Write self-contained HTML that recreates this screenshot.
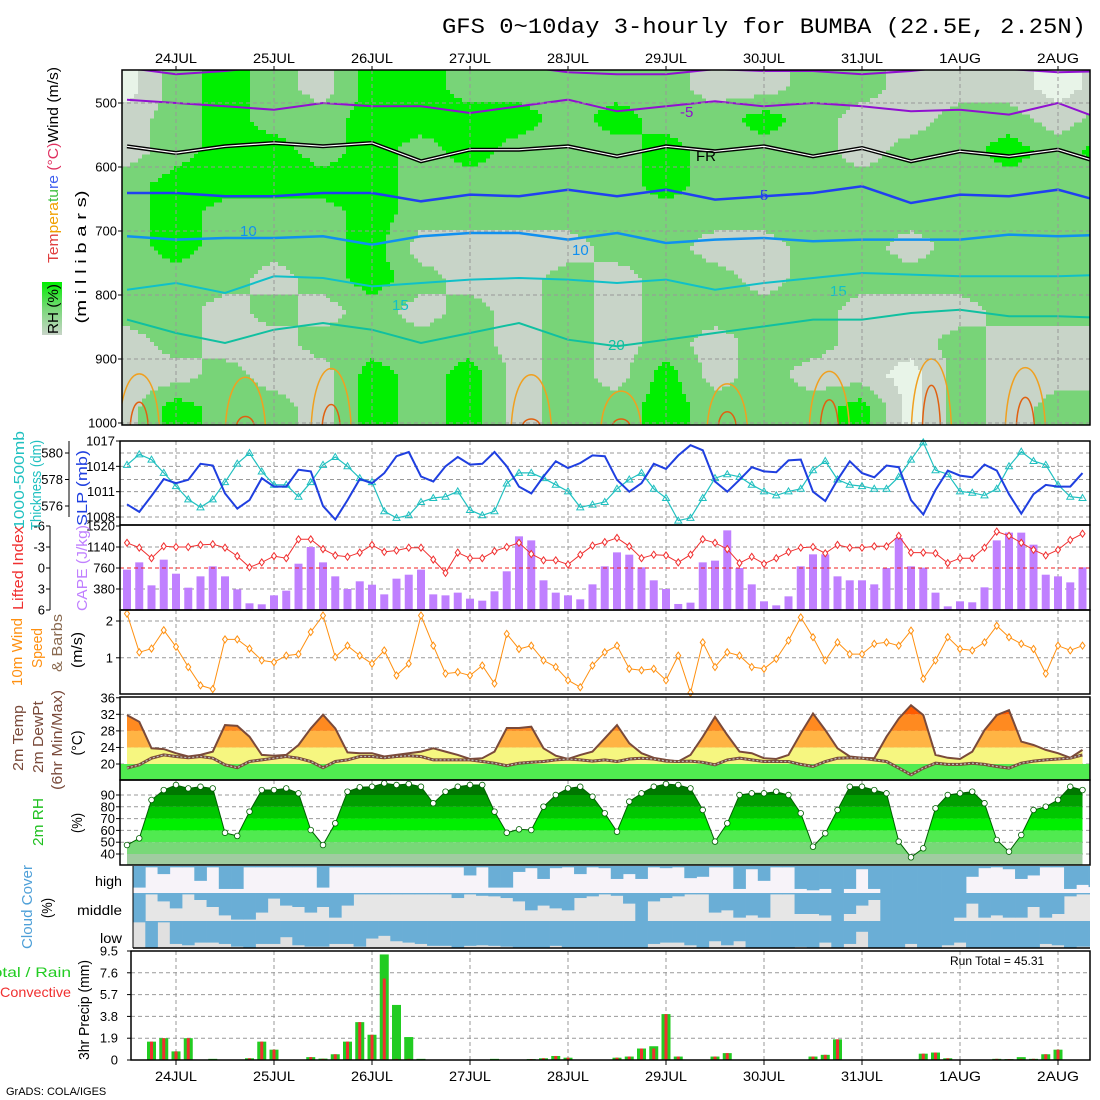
<!DOCTYPE html>
<html><head><meta charset="utf-8"><style>
html,body{margin:0;padding:0;background:#fff}
svg{display:block;font-family:"Liberation Sans",sans-serif}
</style></head><body>
<svg id="c" width="1100" height="1100" viewBox="0 0 1100 1100" xmlns="http://www.w3.org/2000/svg">
<defs>
<clipPath id="clipTop"><rect x="122" y="70" width="968" height="355"/></clipPath>
<clipPath id="clipCloud"><rect x="133" y="866" width="957" height="82"/></clipPath>
<linearGradient id="rhLeg" x1="0" y1="0" x2="0" y2="1"><stop offset="0" stop-color="#00ee00"/><stop offset="0.5" stop-color="#78d878"/><stop offset="1" stop-color="#c8d4c8"/></linearGradient>
</defs>
<text x="442" y="33" font-family="Liberation Mono,monospace" font-size="22" textLength="644" lengthAdjust="spacingAndGlyphs">GFS 0~10day 3-hourly for BUMBA (22.5E, 2.25N)</text>
<g id="top"></g><g id="grid"></g><g id="marks"></g><g id="axes"></g><g id="labels" font-size="15"></g>
<text x="950" y="965" font-size="12">Run Total = 45.31</text>
<text x="6" y="1095" font-size="11">GrADS: COLA/IGES</text>
</svg>
<script>
// ---------- data ----------
const dayLabels=["24JUL","25JUL","26JUL","27JUL","28JUL","29JUL","30JUL","31JUL","1AUG","2AUG"];
const slp=[1009.5,1008.6,1010.5,1012.5,1012,1012.4,1014.3,1014.1,1010.8,1009,1010,1012.6,1011.6,1011.6,1013.6,1013.4,1009.3,1007.7,1010,1012.5,1012,1013.2,1015.2,1015.7,1012.8,1012.2,1014,1015.1,1014.2,1014.3,1015.7,1014,1011.6,1010.8,1012.8,1014.6,1013.8,1014.4,1015.3,1015.2,1012.4,1011,1012,1014.3,1013.7,1015.3,1016.5,1015.9,1012.2,1011,1012.4,1013.9,1013.4,1013.3,1014.7,1014.8,1011,1009.9,1012.4,1014.6,1013.2,1012.7,1014.1,1013.9,1010,1008.3,1011.2,1013.5,1012.9,1012.7,1014.2,1013.5,1010.7,1008.4,1010.7,1011.8,1011.6,1011.6,1013.2];
const thick=[579.1,579.9,579.5,578.5,577.5,576.5,575.9,576.5,577.8,579.2,580,578.6,577.6,577.6,576.7,577.8,579.1,579.7,579,578.1,577.8,575.6,575.1,575.3,576.3,576.6,576.7,577.1,575.7,575.3,575.6,577.7,578.5,578.5,578.1,577.6,577.1,575.9,576.1,576.3,577.3,578,578.5,577.3,576.6,574.9,575.1,576.6,578.1,578.4,578.2,577.6,577.1,576.8,577.1,577.3,578.7,579.4,578,577.6,577.5,577.3,577.3,578.2,579.5,580.8,578.7,578.4,577.1,577,576.8,577.3,579,580.1,579.4,579.1,577.6,576.7,576.6];
const cape=[730,862,446,911,657,404,609,790,609,374,121,103,265,350,838,1140,862,609,380,519,458,283,567,639,730,283,265,314,205,169,338,700,1333,1260,537,314,265,193,464,790,1043,1001,772,537,380,109,133,862,893,1441,760,464,157,84,247,790,1007,1007,609,537,537,464,760,1303,790,766,314,66,157,139,410,1260,1400,1400,1182,639,609,500,772];
const liftedIndex=[-3.6,-2.9,-1.4,-3.1,-3,-3,-3.3,-3.4,-2.9,-1.7,-0.1,-0.8,-1.7,-1.4,-4.1,-4.1,-2.7,-1.8,-1.6,-2.2,-3.3,-2.3,-2.5,-2.9,-2.9,-1.2,0.7,-2.2,-1.4,-1.4,-2.4,-3,-3.6,-2,-1.1,-1.1,-0.5,-1.9,-3.2,-3.7,-4.3,-3.1,-1.4,-1.9,-1.8,-0.8,-1.9,-4.1,-3.6,-2.7,-0.7,-1.6,-0.6,-1.4,-2.3,-2.9,-3,-2.1,-3.3,-2.9,-2.9,-3.1,-3.1,-4.6,-2.2,-2.2,-2.1,-0.7,-1.4,-1.4,-2.9,-5.2,-4.6,-3.6,-2.6,-1.8,-2.6,-4,-4.9];
const windSpeed=[2.2,1.15,1.25,1.75,1.3,0.75,0.25,0.15,1.5,1.5,1.25,0.93,0.88,1.06,1.1,1.7,2.15,1.02,1.33,1.06,0.84,1.2,0.52,0.84,2.15,1.33,0.57,0.61,0.52,0.79,0.3,1.65,1.24,1.33,0.93,0.75,0.39,0.2,0.79,1.15,1.33,0.7,0.66,0.7,0.39,1.06,0.05,1.42,0.75,1.15,1.06,0.75,0.7,0.97,1.47,2.1,1.56,0.93,1.42,1.1,1.1,1.38,1.42,1.33,1.74,0.43,0.93,1.56,1.24,1.2,1.42,1.87,1.56,1.38,1.24,0.57,1.33,1.2,1.33];
const temp2m=[31.8,30.2,23.8,23.6,22.6,21.8,22.2,23,29.4,29.2,26.6,22.2,22,22.2,24.6,28.6,31.9,28.6,22.8,22.6,22.6,21.8,22.2,22.6,23,23.8,23,22.2,21.2,21.4,23,28.7,28.7,29,23.8,22,21.2,22.2,23,26.2,29.4,25,22.6,21.5,21,20.6,22.2,26.6,31.4,27,23,22.6,21.4,21.2,22.2,27.4,32.2,28.2,23.8,21.8,21.5,21.4,26.6,31,34.2,31.8,22.2,21.5,21.2,23,28.2,31.8,33,25.4,24.6,23.4,22.6,21.5,23.4];
const dew2m=[19,19.8,21.4,22.2,21.8,21.5,21.8,21.4,19.8,19.1,20.6,21,21.4,21.8,21.4,20.6,19.1,20.6,21,21.8,21.8,21.5,21.8,22,21.8,21,21,21,21,20.6,20.2,19.6,20.2,20.4,20.6,21,21.2,21,20.7,21,20.6,21.2,21.4,21.2,20.7,20.6,20.7,20.4,19.8,21,21.4,21,20.6,20.6,20.6,19.9,19.4,20.6,21.4,21.5,21.4,21,20.6,19,17.4,19,20.2,19.9,19.9,20.2,19.9,19.4,19,20.2,20.7,21,21.2,21.4,22.2];
const rh2m=[47.6,53.3,85.8,94.2,98.5,95.6,97,95.6,58,55.3,75.9,94.2,94.2,95.6,91.4,60.3,47.6,66,92.8,96.5,97,99.9,98.5,99.3,97,83,92.8,97,98.5,98.5,75.9,58,60.9,60.3,80.1,90,95.6,97,88.6,74.5,58.9,84.4,91.4,97,99.3,98.5,95.6,77.3,50.5,66,90,91.4,91.4,92.8,90,74.5,46.2,57.5,77.3,97,97,94.2,91.4,50.5,37.2,44.8,78.7,90,91.4,92.8,83,51.9,42,56.1,77.3,80.1,85.8,97,94.2];
const cloudHigh=[80,5,30,5,5,55,5,85,85,5,5,5,5,5,5,80,5,5,5,5,5,5,5,5,5,5,5,35,5,80,80,22,8,48,8,5,30,5,8,48,30,48,5,8,5,45,40,5,5,85,12,55,5,5,85,90,85,100,85,12,85,100,100,100,100,100,100,100,40,8,5,12,48,35,5,5,85,70,78];
const cloudMid=[100,5,30,55,5,25,50,80,95,95,70,20,45,50,70,50,88,45,5,5,5,5,5,5,5,5,18,5,10,12,18,30,62,45,55,62,18,12,5,10,38,100,30,18,12,5,5,70,62,88,80,88,5,5,75,75,80,100,75,45,25,100,100,100,100,100,100,88,38,88,80,88,88,50,88,75,12,5,5];
const cloudLow=[5,100,5,85,90,80,80,85,95,100,85,85,60,90,95,95,85,85,95,65,55,75,80,85,92,92,100,92,90,92,95,100,100,100,92,100,100,100,100,100,100,100,85,80,80,90,100,75,90,75,100,100,100,100,96,100,80,100,85,40,100,100,100,85,100,100,90,80,100,100,100,100,100,100,85,90,100,95,95];
const precipTotal=[0,0,1.6,1.9,0.75,1.9,0,0.1,0,0,0.15,1.6,0.9,0,0,0.25,0.12,0.5,1.6,3.3,2.2,9.2,4.8,2.0,0.1,0,0,0,0,0,0.1,0,0,0.08,0.15,0.35,0.2,0,0,0,0.2,0.3,1.0,1.2,4.0,0.3,0,0,0.3,0.6,0,0,0,0,0,0,0.3,0.45,1.8,0,0,0,0,0,0,0.55,0.65,0.15,0,0,0,0.1,0.08,0.25,0.1,0.5,0.9,0,0,0];
const precipConv=[0,0,1.6,1.9,0.75,1.9,0,0,0,0,0.15,1.6,0.9,0,0,0.25,0.1,0.5,1.6,3.3,2.2,7.1,0.1,0.1,0,0,0,0,0,0,0,0,0,0.08,0.15,0.35,0.2,0,0,0,0.2,0.3,1.0,1.0,4.0,0.3,0,0,0.3,0.6,0,0,0,0,0,0,0.3,0.45,1.8,0,0,0,0,0,0,0.55,0.65,0.15,0,0,0,0.1,0.08,0.1,0.1,0.5,0.9,0,0,0];
const isoM5a=[494.8,500,505.2,510.4,500,505.2,505.2,515.6,505.2,494.8,513,505.2,497.4,505.2,500,505.2,513,510.4,518.2,500,528.6];
const isoM5b=[445,455,450,442,447,442,442,447,442,452,455,455,447,450,450,455,450,442,447,452,450];
const iso0=[567.7,578.1,567.7,562.5,567.7,562.5,591.1,572.9,572.9,567.7,583.3,567.7,575.5,567.7,583.3,570.3,591.1,575.5,583.3,572.9,596.4];
const iso5=[640.6,640.6,645.8,645.8,640.6,640.6,653.6,643.2,645.8,635.4,645.8,635.4,651,645.8,640.6,630.2,656.2,643.2,645.8,635.4,656.2];
const iso10=[708.3,713.5,710.9,710.9,708.3,721.4,708.3,703.1,703.1,713.5,703.1,718.7,713.5,710.9,716.1,713.5,713.5,713.5,705.7,708.3,705.7];
const iso15=[791.7,781.2,796.9,770.8,773.4,786.5,781.2,776,773.4,776,781.2,776,791.7,781.2,773.4,765.6,768.2,770.8,770.8,770.8,768.2];
const iso20=[838.5,859.4,875,854.2,843.7,854.2,875,859.4,843.7,869.8,880.2,869.8,859.4,849,838.5,838.5,828.1,822.9,833.3,833.3,835.9];
const warmHours=[-9,17,38,87,109,135,160,185,208];
const warmP25=[896,903,885,898,932,917,891,865,883];
const warmP30=[955,985,960,990,990,975,950,920,945];
const rhLevels=[475,525,575,625,675,725,775,825,875,925,975];
const rhCols=[[0,1,1,2,2,2,2,2,1,1,1],[2,2,2,3,3,3,2,2,2,1,3],[3,3,3,3,2,2,2,1,1,2,2],[2,2,3,3,2,2,1,2,1,1,2],[1,2,2,3,2,2,2,1,2,1,1],[3,3,3,3,3,3,3,2,2,3,3],[3,3,2,2,2,1,2,1,2,2,2],[2,3,3,2,2,1,1,2,2,3,3],[2,3,2,2,2,1,1,1,1,1,1],[2,2,2,2,2,1,2,2,2,2,2],[2,3,2,2,2,2,1,1,1,1,2],[2,2,3,3,2,2,2,2,2,3,3],[1,2,2,2,2,1,2,2,1,1,2],[1,3,2,2,2,1,1,2,2,2,2],[2,2,2,2,2,2,2,2,2,1,2],[2,1,1,2,2,2,2,1,1,1,3],[1,1,2,2,2,1,2,1,1,0,0],[1,2,2,2,2,2,2,1,2,2,2],[1,2,3,2,2,2,2,2,1,1,1],[0,1,2,2,2,2,2,2,1,1,2],[1,2,3,2,2,2,2,2,1,1,2]];
const pTicks=[500,600,700,800,900,1000];
const slpTicks=[1017,1014,1011,1008];
const thickTicks=[580,578,576];
const capeTicks=[1520,1140,760,380];
const liTicks=[-6,-3,0,3,6];
const windTicks=[2,1];
const tempTicks=[36,32,28,24,20];
const rhTicks=[90,80,70,60,50,40];
const precipTicks=[9.5,7.6,5.7,3.8,1.9,0];

// ---------- scales ----------
const xH=t=>176+t*98/24;
const xT=i=>xH(-12+3*i);
const yP=p=>103+(p-500)*0.64;
const ySlp=v=>441+(1017-v)*76/9;
const yThk=v=>453+(580-v)*13.25;
const yCape=v=>610-v*84/1520;
const yLi=v=>568+v*7;
const yWind=v=>694.6-v*36.8;
const yTemp=v=>764-(v-20)*4.14;
const yRh=v=>854-(v-40)*1.18;
const yPr=v=>1060-v*109/9.5;

const NS="http://www.w3.org/2000/svg";
function mk(tag,attrs,parent){const e=document.createElementNS(NS,tag);for(const k in attrs)e.setAttribute(k,attrs[k]);parent.appendChild(e);return e;}
const gTop=document.getElementById('top'),gGrid=document.getElementById('grid'),gM=document.getElementById('marks'),gA=document.getElementById('axes'),gL=document.getElementById('labels');
const line=(arr,fx,fy)=>arr.map((v,i)=>(i?'L':'M')+fx(i).toFixed(1)+','+fy(v).toFixed(1)).join('');

// ---------- top panel RH field (bilinear interpolation of grid, quantized) ----------
const rhColors=['#e8f4e8','#c8d4c8','#78d478','#00f000'];
const topClip=mk('g',{'clip-path':'url(#clipTop)'},gTop);
let bg=mk('rect',{x:122,y:70,width:968,height:355,fill:'#78d478'},topClip);

function fieldAt(t,p){
  let cf=(t+12)/12, rf=(p-475)/50;
  cf=Math.max(0,Math.min(rhCols.length-1,cf)); rf=Math.max(0,Math.min(rhLevels.length-1,rf));
  const c0=Math.floor(cf),r0=Math.floor(rf),c1=Math.min(c0+1,rhCols.length-1),r1=Math.min(r0+1,rhLevels.length-1);
  const fc=cf-c0,fr=rf-r0;
  const a=rhCols[c0][r0]*(1-fr)+rhCols[c0][r1]*fr, b=rhCols[c1][r0]*(1-fr)+rhCols[c1][r1]*fr;
  return a*(1-fc)+b*fc;
}
const STEP=4;
for(let y=70;y<425;y+=STEP){
  const p=500+(y+STEP/2-103)/0.64;
  let runStart=122,runCat=-1;
  for(let x=122;x<=1090+STEP;x+=STEP){
    const t=(x+STEP/2-176)*24/98;
    const cat=x>1090?-9:Math.round(fieldAt(t,p));
    if(cat!==runCat){
      if(runCat>=0&&runCat!==2){const cell=mk('rect',{x:runStart,y:y,width:x-runStart,height:STEP+0.5,fill:rhColors[runCat]},topClip);
        
        }
      runStart=x;runCat=cat;
    }
  }
}
const isoSet=[[isoM5b,'#9010d0',2],[isoM5a,'#9010d0',2],[iso5,'#2040f0',2.5],[iso10,'#1090f0',2.5],[iso15,'#10c0c8',2],[iso20,'#10c0a0',2]];
const ci=i=>xH(-12+12*i);
isoSet.forEach(([a,col,w])=>{const p=mk('path',{d:line(a,ci,yP),fill:'none',stroke:col,'stroke-width':w},topClip);
  });
let fr=mk('path',{d:line(iso0,ci,yP),fill:'none',stroke:'#000','stroke-width':4},topClip);

mk('path',{d:line(iso0,ci,yP),fill:'none',stroke:'#fff','stroke-width':1.2},topClip);
warmHours.forEach((h,k)=>{const x=xH(h);
  const a=mk('path',{d:`M${x-20},426 C${x-16},${yP(warmP25[k])} ${x+16},${yP(warmP25[k])} ${x+20},426`,fill:'none',stroke:'#f0a020','stroke-width':1.5},topClip);
  
  const b=mk('path',{d:`M${x-9},426 C${x-7},${yP(warmP30[k])} ${x+7},${yP(warmP30[k])} ${x+9},426`,fill:'none',stroke:'#e06010','stroke-width':1.5},topClip);
  
});
[["-5",680,117,'#9010d0'],["FR",696,161,'#000'],["5",760,200,'#2040f0'],["10",240,236,'#1090f0'],["10",572,255,'#1090f0'],["15",392,310,'#10c0c8'],["15",830,296,'#10c0c8'],["20",608,350,'#10c0a0']].forEach(([t,x,y,c])=>{
  const e=mk('text',{x,y,fill:c,'font-size':15},topClip);e.textContent=t;
  });

// ---------- grids ----------
const dash={stroke:'#999','stroke-width':1,'stroke-dasharray':'4,3'};
const panels=[[70,425],[441,525],[525,610],[610,694],[697,780],[780,865],[866,948],[951,1060]];
dayLabels.forEach((d,k)=>{const x=xH(24*k);panels.forEach(([a,b])=>mk('line',Object.assign({x1:x,x2:x,y1:a,y2:b},dash),gGrid));});
function hgrid(vals,fy,x0){vals.forEach(v=>mk('line',Object.assign({x1:x0||120,x2:1090,y1:fy(v),y2:fy(v)},dash),gGrid));}
hgrid(pTicks,yP);hgrid([1014,1011,1008],ySlp);hgrid(thickTicks,yThk);hgrid([1140,760,380],yCape);hgrid(windTicks,yWind);hgrid([32,28,24,20],yTemp);hgrid(rhTicks,yRh);hgrid([7.6,5.7,3.8,1.9],yPr,131);
mk('line',{x1:133,x2:1090,y1:893,y2:893,stroke:'#999','stroke-dasharray':'4,3'},gGrid);

// ---------- SLP / thickness ----------
let e=mk('path',{d:line(thick,xT,yThk),fill:'none',stroke:'#20c0c0','stroke-width':1.2},gM);

thick.forEach((v,i)=>{const x=xT(i),y=yThk(v);const m=mk('path',{d:`M${x},${y-3.5}L${x+3.5},${y+2.5}L${x-3.5},${y+2.5}Z`,fill:'none',stroke:'#20c0c0','stroke-width':1},gM);
  });
e=mk('path',{d:line(slp,xT,ySlp),fill:'none',stroke:'#1f3fe0','stroke-width':2},gM);


// ---------- CAPE / LI ----------
cape.forEach((v,i)=>{const b=mk('rect',{x:xT(i)-4,y:yCape(v),width:8,height:610-yCape(v),fill:'#c080ff'},gM);
  });
mk('line',{x1:120,x2:1090,y1:yLi(0),y2:yLi(0),stroke:'#f02020','stroke-dasharray':'4,3'},gM);
e=mk('path',{d:line(liftedIndex,xT,yLi),fill:'none',stroke:'#f03030','stroke-width':1},gM);

liftedIndex.forEach((v,i)=>{const x=xT(i),y=yLi(v);const m=mk('path',{d:`M${x},${y-3.5}L${x+2.5},${y}L${x},${y+3.5}L${x-2.5},${y}Z`,fill:'#fff',stroke:'#f03030','stroke-width':1},gM);
  });

// ---------- wind ----------
e=mk('path',{d:line(windSpeed,xT,yWind),fill:'none',stroke:'#ff9010','stroke-width':1},gM);

windSpeed.forEach((v,i)=>{const x=xT(i),y=yWind(v);const m=mk('path',{d:`M${x},${y-3.5}L${x+2.5},${y}L${x},${y+3.5}L${x-2.5},${y}Z`,fill:'#fff',stroke:'#ff9010','stroke-width':1},gM);
  });

// ---------- temperature ----------
const tArea=line(temp2m,xT,yTemp)+`L${xT(temp2m.length-1)},780L${xT(0)},780Z`;
const tcp=mk('clipPath',{id:'tclip'},document.querySelector('defs'));mk('path',{d:tArea},tcp);
const tg=mk('g',{'clip-path':'url(#tclip)'},gM);

[[16,20,'#50ec50'],[20,24,'#f6f680'],[24,28,'#ffb444'],[28,32,'#ff8a20'],[32,40,'#ff5a00']].forEach(([a,b,c])=>mk('rect',{x:120,y:yTemp(b),width:970,height:yTemp(a)-yTemp(b),fill:c},tg));
mk('rect',{x:120,y:yTemp(20),width:970,height:780-yTemp(20),fill:'#50ec50'},gM);
e=mk('path',{d:line(temp2m,xT,yTemp),fill:'none',stroke:'#7a4a3a','stroke-width':2},gM);

e=mk('path',{d:line(dew2m,xT,yTemp),fill:'none',stroke:'#7a4a3a','stroke-width':3},gM);

mk('path',{d:line(dew2m,xT,yTemp),fill:'none',stroke:'#bbb','stroke-width':1.2,'stroke-dasharray':'2,2'},gM);

// ---------- RH ----------
const rArea=line(rh2m,xT,yRh)+`L${xT(rh2m.length-1)},865L${xT(0)},865Z`;
const rcp=mk('clipPath',{id:'rclip'},document.querySelector('defs'));mk('path',{d:rArea},rcp);
const rg=mk('g',{'clip-path':'url(#rclip)'},gM);

[[30,40,'#a0cca0'],[40,50,'#78d878'],[50,60,'#50ea50'],[60,70,'#00f000'],[70,80,'#00c800'],[80,90,'#00a000'],[90,105,'#007800']].forEach(([a,b,c])=>mk('rect',{x:120,y:yRh(b),width:970,height:yRh(a)-yRh(b),fill:c},rg));
e=mk('path',{d:line(rh2m,xT,yRh),fill:'none',stroke:'#006000','stroke-width':1},gM);

rh2m.forEach((v,i)=>{const m=mk('circle',{cx:xT(i),cy:yRh(v),r:2.8,fill:'#fff',stroke:'#006000','stroke-width':0.8},gM);
  });

// ---------- cloud cover ----------
const cg=mk('g',{'clip-path':'url(#clipCloud)'},gM);
[[cloudHigh,866,27,'#f7f3f9','cloud-high'],[cloudMid,893,28,'#e6e6e6','cloud-middle'],[cloudLow,921,27,'#e0e0e0','cloud-low']].forEach(([arr,y0,h,bgc,nm])=>{
  mk('rect',{x:133,y:y0,width:957,height:h,fill:bgc},cg);
  arr.forEach((v,k)=>{const b=mk('rect',{x:xT(k+1)-6.2,y:y0,width:12.6,height:h*v/100,fill:'#6aaed6'},cg);
    });
});

// ---------- precip ----------
precipTotal.forEach((v,i)=>{if(v<=0)return;const b=mk('rect',{x:xT(i)-4.5,y:yPr(v),width:9,height:1060-yPr(v),fill:'#22cc22'},gM);
  });
precipConv.forEach((v,i)=>{if(v<=0)return;const b=mk('rect',{x:xT(i)-1.5,y:yPr(v),width:3,height:1060-yPr(v),fill:'#f03030'},gM);
  });

// ---------- axes / borders ----------
const bl={fill:'none',stroke:'#000','stroke-width':1.5};
mk('rect',Object.assign({x:122,y:70,width:968,height:355},bl),gA);
mk('rect',Object.assign({x:120,y:441,width:970,height:84},bl),gA);
mk('rect',Object.assign({x:120,y:525,width:970,height:85},bl),gA);
mk('rect',Object.assign({x:120,y:610,width:970,height:84},bl),gA);
mk('rect',Object.assign({x:120,y:697,width:970,height:83},bl),gA);
mk('rect',Object.assign({x:120,y:780,width:970,height:85},bl),gA);
mk('line',{x1:133,x2:133,y1:866,y2:948,stroke:'#000'},gA);
mk('line',{x1:133,x2:1090,y1:948,y2:948,stroke:'#000','stroke-width':1.5},gA);
mk('rect',Object.assign({x:131,y:951,width:959,height:109},bl),gA);
mk('line',{x1:69,x2:69,y1:441,y2:517,stroke:'#000'},gA);
mk('line',{x1:50,x2:50,y1:526,y2:610,stroke:'#000'},gA);
function ticks(vals,fy,xr,xl){vals.forEach(v=>{const y=fy(v);mk('line',{x1:xr,x2:xr+4,y1:y,y2:y,stroke:'#000'},gA);
  const t=mk('text',{x:xl,y:y+4.5,'text-anchor':'end','font-size':13},gA);t.textContent=v;
  });}
ticks(pTicks,yP,118,117);ticks(slpTicks,ySlp,116,115);ticks(thickTicks,yThk,65,63);ticks(capeTicks,yCape,116,115);
ticks(liTicks,yLi,46,45);ticks(windTicks,yWind,116,113);ticks(tempTicks,yTemp,116,115);ticks(rhTicks,yRh,116,115);ticks(precipTicks,yPr,127,118);
dayLabels.forEach((d,k)=>{const x=xH(24*k);
  [[63,'top-date-label'],[1081,'bottom-date-label']].forEach(([y,nm])=>{const t=mk('text',{x:x,y:y,'text-anchor':'middle','font-size':14,textLength:42,lengthAdjust:'spacingAndGlyphs'},gA);t.textContent=d;
    });
  mk('line',{x1:x,x2:x,y1:66,y2:70,stroke:'#000'},gA);mk('line',{x1:x,x2:x,y1:1060,y2:1065,stroke:'#000'},gA);});

// ---------- panel labels ----------
function vlab(txt,x,yc,col,len,name){const t=mk('text',{x:0,y:0,transform:`translate(${x},${yc}) rotate(-90)`,'text-anchor':'middle',fill:col,textLength:len,lengthAdjust:'spacingAndGlyphs'},gL);
  t.innerHTML=txt;}
vlab('<tspan fill="#e04040">Tem</tspan><tspan fill="#f0a000">pera</tspan><tspan fill="#40c040">tu</tspan><tspan fill="#4060f0">re</tspan> <tspan fill="#e03060">(°C)</tspan><tspan fill="#000">Wind (m/s)</tspan>',58,165,'#000',196,'temperature-wind-label');
vlab('(m i l l i b a r s)',86,257,'#000',133,'pressure-axis-title');
let lg=mk('rect',{x:42,y:282,width:20,height:53,fill:'url(#rhLeg)'},gL);
vlab('RH (%)',58,309,'#000',50,'rh-legend-label');
vlab('1000-500mb',24,480,'#20c0c0',98,'thickness-title');
vlab('Thickness (dm)',41,485,'#20c0c0',90,'thickness-units');
vlab('SLP (mb)',87,488,'#1f3fe0',76,'slp-title');
vlab('Lifted Index',23,568,'#f03030',84,'lifted-index-title');
vlab('CAPE (J/kg)',87,568,'#c080ff',86,'cape-title');
vlab('10m Wind',22,652,'#ff9010',68,'wind-title');
vlab('Speed',42,648,'#ff9010',40,'wind-speed-title');
vlab('&amp; Barbs',62,643,'#8a6a50',58,'wind-barbs-title');
vlab('(m/s)',82,650,'#000',36,'wind-units');
vlab('2m Temp',23,738,'#7a4a3a',66,'temp-title');
vlab('2m DewPt',43,737,'#7a4a3a',72,'dewpoint-title');
vlab('(6hr Min/Max)',62,740,'#7a4a3a',100,'minmax-title');
vlab('(°C)',82,743,'#000',25,'temp-units');
vlab('2m RH',43,822,'#20c020',48,'rh-title');
vlab('(%)',82,823,'#000',20,'rh-units');
vlab('Cloud Cover',32,907,'#4fa0d8',84,'cloud-title');
vlab('(%)',52,908,'#000',20,'cloud-units');
vlab('3hr Precip (mm)',89,1010,'#000',100,'precip-title');
[['high',95,886,27],['middle',77,915,45],['low',100,943,22]].forEach(([t,x,y,w])=>{const e=mk('text',{x,y,'font-size':14,textLength:w,lengthAdjust:'spacingAndGlyphs'},gL);e.textContent=t;
  });
e=mk('text',{x:-16,y:977,fill:'#22cc22','font-size':14,textLength:87,lengthAdjust:'spacingAndGlyphs'},gL);e.textContent='Total / Rain';

e=mk('text',{x:0,y:997,fill:'#f03030','font-size':14,textLength:71,lengthAdjust:'spacingAndGlyphs'},gL);e.textContent='Convective';

</script>
</body></html>
